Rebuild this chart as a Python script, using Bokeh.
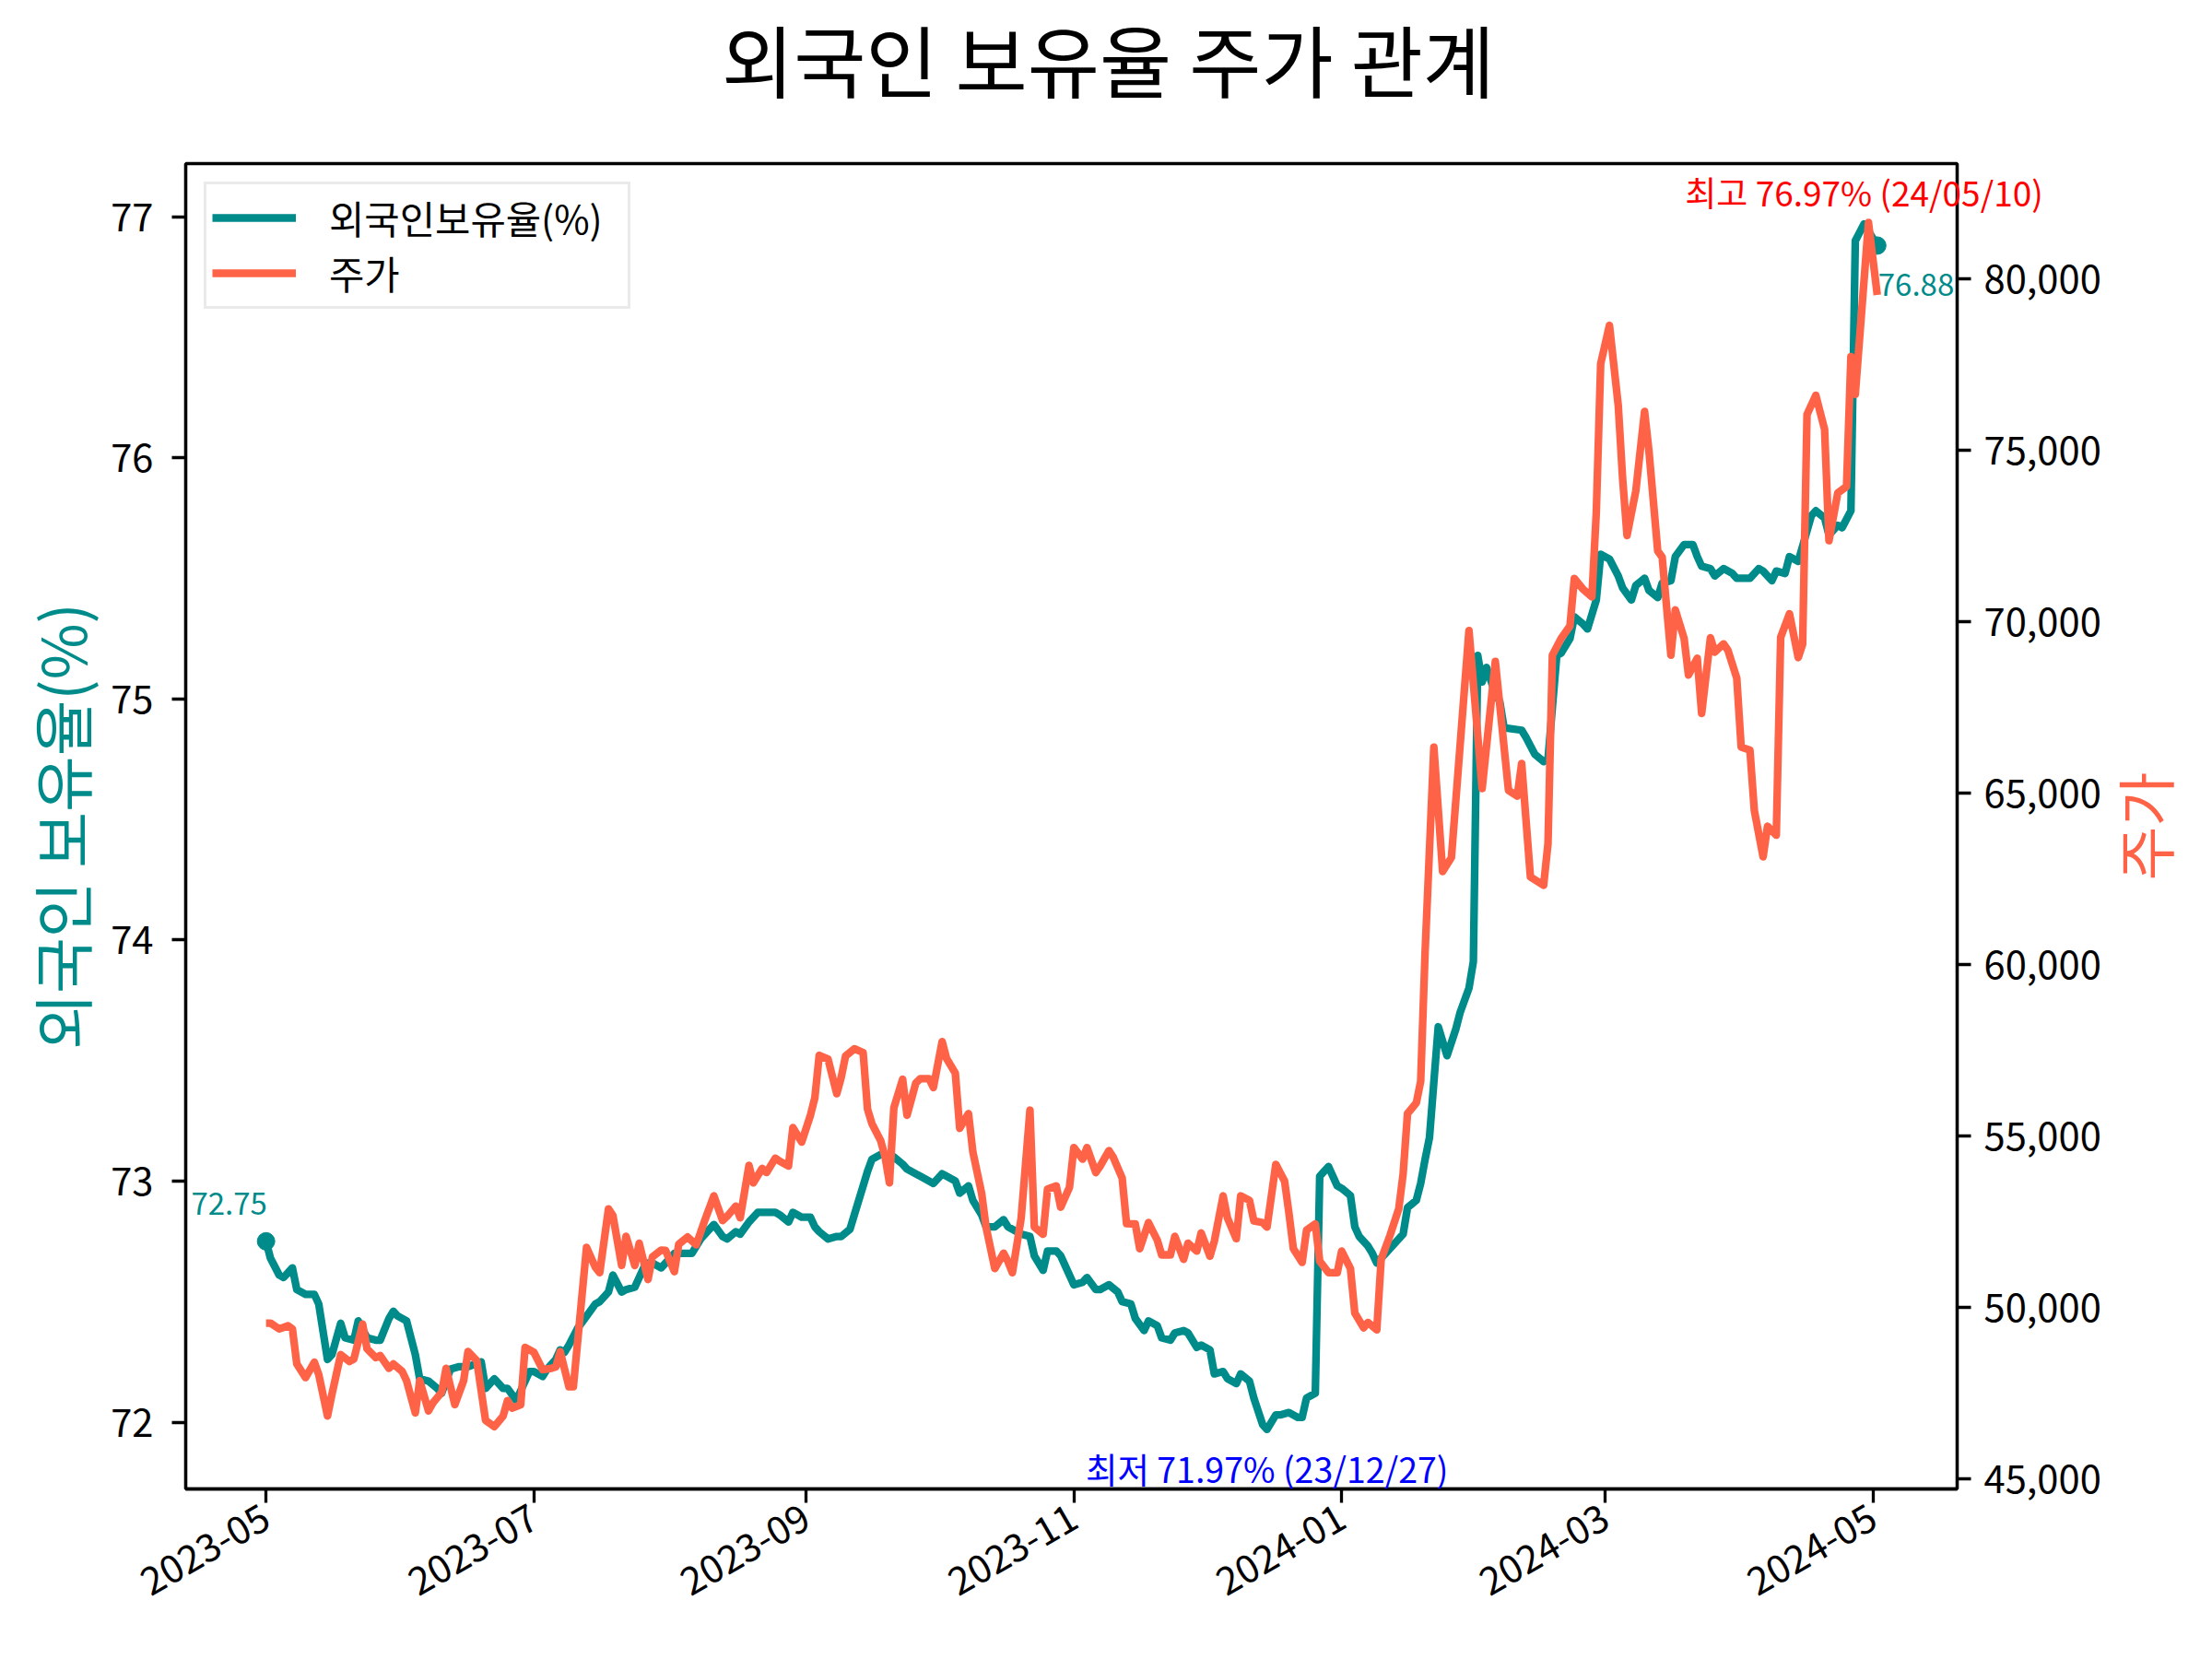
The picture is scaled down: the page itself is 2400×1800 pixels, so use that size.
import math
import pandas as pd
from bokeh.plotting import figure
from bokeh.models import (Range1d, LinearAxis, FixedTicker, NumeralTickFormatter,
                          DatetimeTickFormatter, Label, Legend, LegendItem)
from bokeh.embed import file_html
from bokeh.resources import INLINE

# ---------------- data ----------------
start_date = "2023-05-01"

own_day = [0, 1, 3, 4, 6, 7, 9, 11, 12, 14, 15, 17, 18, 20, 21, 23, 25, 26, 28, 29, 30, 32, 34, 35, 37, 39, 40,
           42, 44, 46, 49, 50, 52, 54, 55, 57, 60, 61, 63, 64, 66, 67, 68, 69, 71, 73, 75, 76, 78, 79, 81, 82,
           84, 86, 87, 88, 90, 91, 93, 97, 99, 102, 104, 105, 107, 108, 110, 112, 116, 117, 119, 120, 122, 124,
           125, 126, 128, 130, 131, 133, 134, 136, 137, 138, 140, 141, 143, 145, 146, 148, 149, 151, 152, 154,
           155, 157, 158, 160, 161, 163, 164, 166, 168, 169, 171, 172, 174, 175, 177, 178, 180, 181, 184, 186,
           187, 189, 190, 192, 194, 195, 197, 198, 200, 201, 203, 204, 206, 207, 209, 210, 212, 213, 215, 216,
           218, 219, 221, 222, 224, 225, 227, 228, 230, 231, 233, 235, 236, 237, 239, 240, 242, 244, 245, 247,
           248, 249, 251, 252, 253, 254, 256, 257, 259, 260, 262, 263, 264, 265, 267, 269, 271, 272, 274, 275,
           276, 277, 278, 280, 281, 282, 286, 287, 289, 291, 292, 294, 295, 297, 298, 300, 301, 303, 304, 306,
           308, 309, 311, 312, 314, 315, 317, 318, 320, 321, 323, 325, 326, 327, 329, 330, 332, 334, 335, 338,
           340, 341, 343, 344, 346, 347, 349, 352, 353, 355, 356, 358, 359, 361, 362, 364, 367]
own_pct = [72.75, 72.68, 72.61, 72.60, 72.64, 72.55, 72.53, 72.53, 72.49, 72.26, 72.28, 72.41, 72.35, 72.34,
           72.42, 72.35, 72.34, 72.34, 72.43, 72.46, 72.44, 72.42, 72.28, 72.18, 72.17, 72.14, 72.12, 72.22,
           72.23, 72.23, 72.25, 72.14, 72.18, 72.14, 72.14, 72.09, 72.21, 72.21, 72.19, 72.22, 72.26, 72.30,
           72.29, 72.32, 72.39, 72.44, 72.49, 72.50, 72.54, 72.61, 72.54, 72.55, 72.56, 72.64, 72.66, 72.66,
           72.64, 72.66, 72.70, 72.70, 72.76, 72.82, 72.77, 72.76, 72.79, 72.78, 72.83, 72.87, 72.87, 72.86,
           72.83, 72.87, 72.85, 72.85, 72.81, 72.79, 72.76, 72.77, 72.77, 72.80, 72.86, 72.98, 73.04, 73.09,
           73.11, 73.11, 73.10, 73.07, 73.05, 73.03, 73.02, 73.00, 72.99, 73.03, 73.02, 73.00, 72.95, 72.98,
           72.92, 72.86, 72.81, 72.81, 72.84, 72.81, 72.79, 72.78, 72.77, 72.69, 72.63, 72.71, 72.71, 72.69,
           72.57, 72.58, 72.60, 72.55, 72.55, 72.57, 72.54, 72.50, 72.49, 72.43, 72.38, 72.42, 72.40, 72.35,
           72.34, 72.37, 72.38, 72.37, 72.31, 72.32, 72.30, 72.20, 72.21, 72.18, 72.16, 72.20, 72.17, 72.10,
           71.99, 71.97, 72.03, 72.03, 72.04, 72.02, 72.02, 72.10, 72.12, 73.02, 73.06, 72.98, 72.97, 72.94,
           72.81, 72.77, 72.73, 72.70, 72.66, 72.68, 72.72, 72.74, 72.78, 72.89, 72.92, 72.99, 73.09, 73.18,
           73.64, 73.52, 73.63, 73.70, 73.80, 73.91, 75.18, 75.07, 75.13, 75.02, 74.99, 74.88, 74.87, 74.84,
           74.77, 74.74, 74.75, 75.18, 75.19, 75.25, 75.34, 75.31, 75.29, 75.41, 75.60, 75.58, 75.51, 75.46,
           75.41, 75.47, 75.50, 75.45, 75.42, 75.48, 75.49, 75.59, 75.64, 75.64, 75.59, 75.55, 75.54, 75.51,
           75.54, 75.52, 75.50, 75.50, 75.54, 75.53, 75.49, 75.53, 75.52, 75.59, 75.57, 75.76, 75.78, 75.75,
           75.68, 75.72, 75.71, 75.78, 76.90, 76.97, 76.88]

price_day = [0, 1, 3, 5, 6, 7, 9, 11, 12, 14, 15, 17, 19, 20, 22, 23, 25, 26, 28, 29, 31, 32, 34, 35, 37, 38,
             40, 41, 43, 45, 46, 48, 50, 52, 54, 55, 56, 58, 59, 61, 63, 65, 66, 67, 69, 70, 73, 75, 76, 78, 79,
             81, 82, 84, 85, 87, 88, 90, 91, 93, 94, 96, 98, 100, 102, 104, 105, 107, 108, 110, 111, 113, 114,
             116, 117, 119, 120, 122, 124, 125, 126, 128, 130, 131, 132, 134, 136, 137, 138, 140, 141, 142, 143,
             145, 146, 148, 149, 151, 152, 154, 155, 157, 158, 160, 161, 163, 164, 166, 168, 169, 170, 172, 174,
             175, 177, 178, 180, 181, 183, 184, 186, 187, 189, 190, 192, 193, 195, 196, 198, 199, 201, 203, 204,
             206, 207, 209, 210, 212, 213, 215, 216, 218, 219, 221, 222, 224, 225, 227, 228, 230, 232, 233, 234,
             236, 237, 239, 240, 242, 244, 245, 247, 248, 250, 251, 253, 254, 256, 258, 259, 260, 262, 263, 264,
             266, 268, 270, 271, 274, 277, 280, 283, 285, 286, 288, 291, 292, 293, 295, 297, 298, 300, 302, 303,
             304, 306, 308, 309, 310, 312, 314, 315, 317, 318, 320, 321, 323, 324, 326, 327, 329, 330, 332, 333,
             335, 336, 338, 339, 341, 342, 344, 345, 347, 349, 350, 351, 353, 355, 356, 358, 360, 361, 362, 365,
             367]
price_krw = [49550, 49550, 49380, 49470, 49380, 48360, 47960, 48410, 48050, 46840, 47470, 48630, 48430, 48500,
             49520, 48800, 48540, 48600, 48230, 48360, 48140, 47870, 46930, 47870, 46990, 47220, 47530, 48230,
             47170, 47870, 48720, 48450, 46710, 46530, 46840, 47290, 47070, 47170, 48840, 48700, 48190, 48230,
             48270, 48720, 47690, 47690, 51760, 51180, 51020, 52880, 52690, 51230, 52080, 51230, 51880, 50820,
             51480, 51680, 51670, 51050, 51850, 52060, 51830, 52570, 53260, 52540, 52660, 52960, 52620, 54150,
             53640, 54060, 53940, 54360, 54270, 54130, 55250, 54830, 55610, 56120, 57360, 57250, 56240, 56710,
             57340, 57550, 57440, 55790, 55370, 54870, 54400, 53640, 55830, 56660, 55610, 56550, 56680, 56680,
             56420, 57760, 57270, 56840, 55230, 55660, 54540, 53330, 52350, 51140, 51590, 51340, 51020, 52610,
             55760, 52350, 52140, 53460, 53550, 52930, 53510, 54670, 54330, 54670, 53940, 54130, 54580, 54380,
             53780, 52450, 52440, 51720, 52480, 51970, 51540, 51540, 52080, 51410, 51880, 51650, 52180, 51500,
             51940, 53260, 52610, 52010, 53260, 53130, 52530, 52480, 52350, 54180, 53690, 52750, 51720, 51320,
             52260, 52440, 51360, 51020, 51020, 51650, 51140, 49840, 49410, 49570, 49350, 51410, 52100, 52880,
             53900, 55660, 55970, 56600, 60350, 66350, 62720, 63130, 64780, 69750, 65140, 68850, 65090, 64920,
             65870, 62560, 62320, 63530, 69030, 69520, 69880, 71270, 70950, 70730, 73190, 77530, 78650, 76320,
             74180, 72520, 73820, 76140, 74980, 72070, 71890, 69030, 70350, 69520, 68450, 68940, 67330, 69540,
             69120, 69360, 69170, 68360, 66350, 66260, 64500, 63150, 64040, 63780, 69550, 70240, 68960, 69350,
             76050, 76610, 75620, 72370, 73760, 73950, 77740, 76640, 81650, 79540]

x_tick_labels = ["2023-05", "2023-07", "2023-09", "2023-11", "2024-01", "2024-03", "2024-05"]
own_ticks = [72, 73, 74, 75, 76, 77]
price_ticks = [45000, 50000, 55000, 60000, 65000, 70000, 75000, 80000]

title_text = "외국인 보유율 주가 관계"
own_name = "외국인보유율(%)"
price_name = "주가"
own_axis_label = "외국인 보유율(%)"
price_axis_label = "주가"
min_text = "최저 71.97% (23/12/27)"
max_text = "최고 76.97% (24/05/10)"

# ---------------- styling ----------------
TEAL = "#008B8B"
TOMATO = "#FF6347"
FONT = "Noto Sans CJK KR"
LW_AX = 3.3
FRAME_W, FRAME_H = 1922, 1438
BORDER_L, BORDER_T = 201, 177

t0 = pd.Timestamp(start_date)
own_x = [t0 + pd.Timedelta(days=d) for d in own_day]
price_x = [t0 + pd.Timedelta(days=d) for d in price_day]

x_start = t0 - pd.Timedelta(days=18.3)
x_end = t0 + pd.Timedelta(days=385.2)
y0, y1 = 71.723, 77.22
span = x_end - x_start
dy = (y1 - y0) / FRAME_H


def px_to_x(px):
    return x_start + span * ((px - BORDER_L) / FRAME_W)


def px_to_y(py):
    return y1 + (BORDER_T - py) * dy


p = figure(width=2384, height=1784, output_backend="svg", toolbar_location=None,
           x_axis_type="datetime",
           x_range=Range1d(x_start, x_end), y_range=Range1d(y0, y1),
           min_border_left=BORDER_L, min_border_right=261, min_border_top=BORDER_T,
           min_border_bottom=169)
p.extra_y_ranges = {"price": Range1d(44712, 83368)}
p.background_fill_color = "white"
p.border_fill_color = "white"
p.outline_line_color = "black"
p.outline_line_width = LW_AX
p.xgrid.visible = False
p.ygrid.visible = False

right_axis = LinearAxis(y_range_name="price")
p.add_layout(right_axis, "right")

p.xaxis.ticker = FixedTicker(ticks=[pd.Timestamp(s + "-01").value / 1e6 for s in x_tick_labels])
p.xaxis.formatter = DatetimeTickFormatter(days="%Y-%m", months="%Y-%m", years="%Y-%m",
                                          hours="%Y-%m", minutes="%Y-%m", seconds="%Y-%m",
                                          milliseconds="%Y-%m", microseconds="%Y-%m", minsec="%Y-%m",
                                          hourmin="%Y-%m")
p.xaxis.major_label_orientation = math.pi / 6
p.yaxis[0].ticker = FixedTicker(ticks=own_ticks)
right_axis.ticker = FixedTicker(ticks=price_ticks)
right_axis.formatter = NumeralTickFormatter(format="0,0")

for ax in [p.xaxis[0], p.yaxis[0], right_axis]:
    ax.axis_line_width = LW_AX
    ax.axis_line_color = "black"
    ax.major_tick_line_width = LW_AX
    ax.major_tick_line_color = "black"
    ax.major_tick_out = 15
    ax.major_tick_in = 0
    ax.minor_tick_out = 0
    ax.minor_tick_in = 0
    ax.major_label_text_font = FONT
    ax.major_label_text_font_size = "41.7px"
    ax.major_label_text_color = "black"
p.xaxis[0].major_label_standoff = 12
p.yaxis[0].major_label_standoff = 20
right_axis.major_label_standoff = 14

# left axis title
p.yaxis[0].axis_label = own_axis_label
p.yaxis[0].axis_label_text_font = FONT
p.yaxis[0].axis_label_text_font_size = "66px"
p.yaxis[0].axis_label_text_font_style = "normal"
p.yaxis[0].axis_label_text_color = TEAL
p.yaxis[0].axis_label_standoff = 4

# lines
own_r = p.line(own_x, own_pct, line_color=TEAL, line_width=8.3, line_join="round")
p.scatter([own_x[0], own_x[-1]], [own_pct[0], own_pct[-1]], size=19, color=TEAL)
price_r = p.line(price_x, price_krw, line_color=TOMATO, line_width=8.3, line_join="round",
                 y_range_name="price")

# point labels (inside the frame)
p.add_layout(Label(x=own_x[0], y=own_pct[0], text=f"{own_pct[0]:.2f}", x_offset=-40, y_offset=41,
                   text_align="center", text_baseline="middle", text_font=FONT,
                   text_font_size="33px", text_color=TEAL))
p.add_layout(Label(x=own_x[-1], y=own_pct[-1], text=f"{own_pct[-1]:.2f}", x_offset=1, y_offset=-43,
                   text_align="left", text_baseline="middle", text_font=FONT,
                   text_font_size="33px", text_color=TEAL))

i_min = own_pct.index(min(own_pct))
i_max = own_pct.index(max(own_pct))
p.add_layout(Label(x=own_x[i_min], y=own_pct[i_min], text=min_text, y_offset=-42,
                   text_align="center", text_baseline="middle", text_font=FONT,
                   text_font_size="37.5px", text_color="blue"))

# texts that reach outside the frame: side panels (not clipped), data-positioned
p.add_layout(Label(x=own_x[i_max], y=own_pct[i_max], text=max_text, y_offset=35,
                   text_align="center", text_baseline="middle", text_font=FONT,
                   text_font_size="37px", text_color="red"), "above")
p.add_layout(Label(x=px_to_x(1202), y=px_to_y(62), text=title_text,
                   text_align="center", text_baseline="middle", text_font=FONT,
                   text_font_size="85px", text_color="black"), "above")
p.add_layout(Label(x=px_to_x(2324), y=px_to_y(896), text=price_axis_label, angle=math.pi / 2,
                   text_align="center", text_baseline="middle", text_font=FONT,
                   text_font_size="64px", text_color=TOMATO), "right")

legend = Legend(items=[LegendItem(label=own_name, renderers=[own_r]),
                       LegendItem(label=price_name, renderers=[price_r])],
                location="top_left", margin=20, padding=6, spacing=0,
                glyph_width=91, glyph_height=42, label_height=42, label_width=318, label_standoff=36,
                label_text_font=FONT, label_text_font_size="41.7px", label_text_color="black",
                border_line_color="#d6d6d6", border_line_width=3.3,
                background_fill_color="white", background_fill_alpha=0.8)
p.add_layout(legend)

open("out.html", "w").write(file_html(p, INLINE))
